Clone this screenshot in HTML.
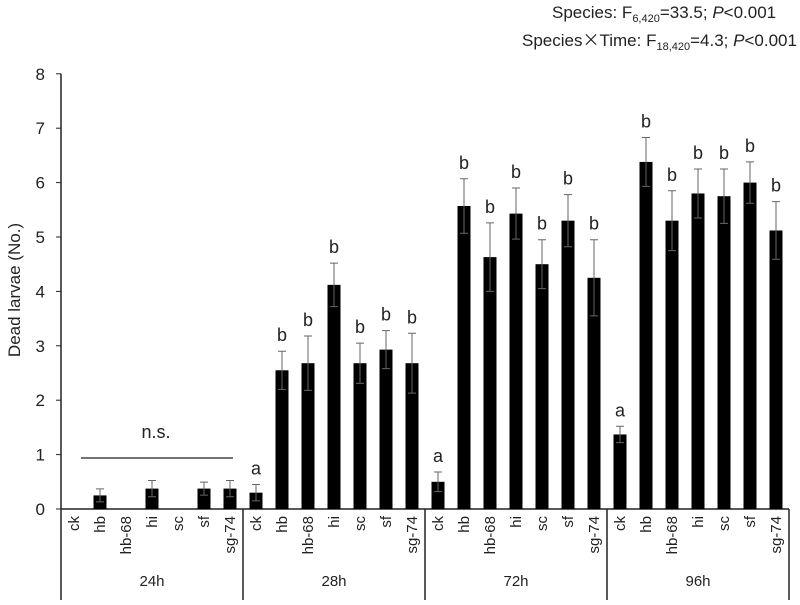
<!DOCTYPE html>
<html><head><meta charset="utf-8"><style>
body{margin:0;background:#fff}
svg text{font-family:"Liberation Sans",sans-serif;fill:#222}
</style></head><body>
<svg id="c" width="800" height="600" xmlns="http://www.w3.org/2000/svg">
<text x="552" y="18" font-size="17">Species: F<tspan font-size="11" dy="4">6,420</tspan><tspan dy="-4">=33.5; </tspan><tspan font-style="italic">P</tspan>&lt;0.001</text>
<text x="522" y="46" font-size="17">Species<tspan font-family="Noto Sans CJK SC">×</tspan>Time: F<tspan font-size="11" dy="4">18,420</tspan><tspan dy="-4">=4.3; </tspan><tspan font-style="italic">P</tspan>&lt;0.001</text>
<text transform="translate(20,290) rotate(-90)" text-anchor="middle" font-size="17">Dead larvae (No.)</text>
<g id="g"></g>
</svg>
<script>
const groups=["24h","28h","72h","96h"];
const species=["ck","hb","hb-68","hi","sc","sf","sg-74"];
const v24=[0,0.25,0,0.375,0,0.375,0.375];
const e24=[0,0.12,0,0.15,0,0.12,0.15];
const l24=["","","","","","",""];
const v28=[0.3,2.55,2.68,4.12,2.68,2.93,2.68];
const e28=[0.15,0.35,0.5,0.4,0.37,0.35,0.55];
const l28=["a","b","b","b","b","b","b"];
const v72=[0.5,5.57,4.63,5.43,4.5,5.3,4.25];
const e72=[0.18,0.5,0.63,0.47,0.45,0.48,0.7];
const l72=["a","b","b","b","b","b","b"];
const v96=[1.37,6.38,5.3,5.8,5.75,6.0,5.12];
const e96=[0.15,0.45,0.55,0.45,0.5,0.38,0.53];
const l96=["a","b","b","b","b","b","b"];
const yTicks=[0,1,2,3,4,5,6,7,8];
const vals=[v24,v28,v72,v96],errs=[e24,e28,e72,e96],lets=[l24,l28,l72,l96];
const X0=61,GW=182,SW=26,BW=13;
const y=v=>509-v*54.4;
const x=(gi,si)=>X0+gi*GW+SW*(si+0.5);
const g=document.getElementById('g');const NS="http://www.w3.org/2000/svg";
function mk(t,a,txt){const e=document.createElementNS(NS,t);for(const k in a)e.setAttribute(k,a[k]);if(txt!==undefined)e.textContent=txt;g.appendChild(e);return e;}
let e=mk('line',{x1:X0,y1:y(8),x2:X0,y2:600,stroke:'#222','stroke-width':1.5});


e=mk('line',{x1:X0,y1:509,x2:X0+4*GW,y2:509,stroke:'#222','stroke-width':1.5});


yTicks.forEach(t=>{
 e=mk('line',{x1:X0-5,y1:y(t),x2:X0,y2:y(t),stroke:'#222'});
 
 
 e=mk('text',{x:X0-16,y:y(t)+6,'text-anchor':'end','font-size':17},t);
 
 
});
groups.forEach((gn,gi)=>{
 e=mk('line',{x1:X0+(gi+1)*GW,y1:509,x2:X0+(gi+1)*GW,y2:600,stroke:'#222','stroke-width':1.5});
 
 
 e=mk('text',{x:X0+gi*GW+GW/2,y:586,'text-anchor':'middle','font-size':15},gn);
 
 
 species.forEach((s,si)=>{
  const cx=x(gi,si),v=vals[gi][si],er=errs[gi][si];
  e=mk('text',{transform:`translate(${cx+5},516) rotate(-90)`,'text-anchor':'end','font-size':15},s);
  
  
  if(v>0){
   e=mk('rect',{x:cx-BW/2,y:y(v),width:BW,height:509-y(v),fill:'#000'});
   
   
  }
  if(er>0){
   e=mk('path',{d:`M${cx},${y(v)}V${y(v+er)}M${cx-4},${y(v+er)}H${cx+4}M${cx},${y(v)}V${y(v-er)}M${cx-4},${y(v-er)}H${cx+4}`,stroke:'#666','stroke-width':1,fill:'none'});
   
   
  }
  const L=lets[gi][si];
  if(L){
   e=mk('text',{x:cx,y:y(v+er)-10,'text-anchor':'middle','font-size':18},L);
   
   
  }
 });
});
e=mk('line',{x1:81,y1:458,x2:233,y2:458,stroke:'#222','stroke-width':1.2});


e=mk('text',{x:156,y:438,'text-anchor':'middle','font-size':18},'n.s.');


</script>
</body></html>
